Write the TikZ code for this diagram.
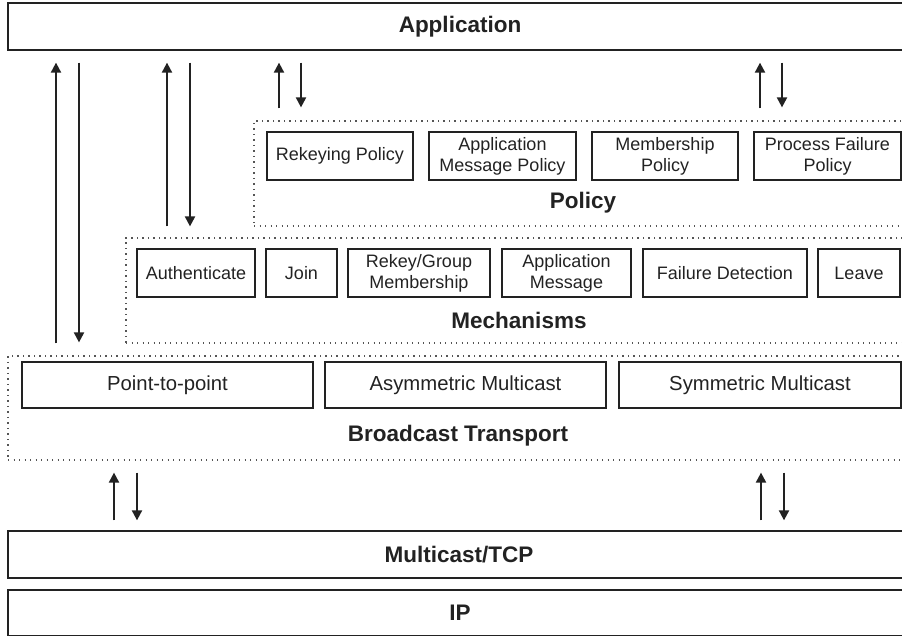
\documentclass[tikz,border=0pt]{standalone}
\usepackage{fontspec}
\setmainfont{Liberation Sans}
\usetikzlibrary{arrows.meta}
\definecolor{ink}{HTML}{222222}
\definecolor{dotc}{HTML}{555555}
\tikzset{
  box/.style={draw=ink, line width=1.3pt, rectangle, inner sep=0pt, align=center,
    text=ink, font=\fontsize{18}{21}\selectfont},
  bigbox/.style={box, font=\fontsize{20.3}{24}\selectfont},
  layer/.style={draw=ink, line width=1.3pt, rectangle, inner sep=0pt},
  group/.style={draw=dotc, line width=1.2pt, dash pattern=on 1.2pt off 4.3pt, rectangle, inner sep=0pt},
  title/.style={text=ink, inner sep=0pt, font=\fontsize{22.5}{26}\selectfont\bfseries},
  arr/.style={draw=ink, line width=2pt, -{Triangle[width=10pt,length=10pt]}},
}
\begin{document}
\begin{tikzpicture}[x=1pt,y=-1pt]
\useasboundingbox (0,0) rectangle (902,636);
% layers
\node[layer, minimum width=904pt, minimum height=47pt] (app) at (460,26.5) {};
\node[title] (appt) at (460,26.5) {Application};
\node[layer, minimum width=904pt, minimum height=47pt] (mc) at (460,554.5) {};
\node[title] (mct) at (459,554.5) {Multicast/TCP};
\node[layer, minimum width=904pt, minimum height=46pt] (ip) at (460,613) {};
\node[title] (ipt) at (460,612.5) {IP};
% groups
\node[group, minimum width=656pt, minimum height=105pt] (pol) at (582,173.5) {};
\node[group, minimum width=784pt, minimum height=105pt] (mech) at (518,290.5) {};
\node[group, minimum width=902pt, minimum height=104pt] (bt) at (459,408) {};
\node[title] (polt) at (583,202.5) {Policy};
\node[title] (mecht) at (519,320) {Mechanisms};
\node[title] (btt) at (458,436) {Broadcast Transport};
% policy boxes
\node[box, minimum width=146pt, minimum height=48pt] (rp) at (340,156) {Rekeying Policy};
\node[box, minimum width=147pt, minimum height=48pt] (amp) at (502.5,156) {Application\\Message Policy};
\node[box, minimum width=146pt, minimum height=48pt] (mp) at (665,156) {Membership\\Policy};
\node[box, minimum width=147pt, minimum height=48pt] (pfp) at (827.5,156) {Process Failure\\Policy};
% mechanism boxes
\node[box, minimum width=118pt, minimum height=48pt] (au) at (196,273) {Authenticate};
\node[box, minimum width=71pt, minimum height=48pt] (jo) at (301.5,273) {Join};
\node[box, minimum width=142pt, minimum height=48pt] (rk) at (419,273) {Rekey/Group\\Membership};
\node[box, minimum width=129pt, minimum height=48pt] (am) at (566.5,273) {Application\\Message};
\node[box, minimum width=164pt, minimum height=48pt] (fd) at (725,273) {Failure Detection};
\node[box, minimum width=82pt, minimum height=48pt] (lv) at (859,273) {Leave};
% transport boxes
\node[bigbox, minimum width=291pt, minimum height=46pt] (pp) at (167.5,385) {Point-to-point};
\node[bigbox, minimum width=281pt, minimum height=46pt] (as) at (465.5,385) {Asymmetric Multicast};
\node[bigbox, minimum width=282pt, minimum height=46pt] (sy) at (760,385) {Symmetric Multicast};
% arrow columns
\coordinate (c1u) at (56,0);  \coordinate (c1d) at (79,0);
\coordinate (c2u) at (167,0); \coordinate (c2d) at (190,0);
\coordinate (c3u) at (279,0); \coordinate (c3d) at (301,0);
\coordinate (c4u) at (760,0); \coordinate (c4d) at (782,0);
\coordinate (c5u) at (114,0); \coordinate (c5d) at (137,0);
\coordinate (c6u) at (761,0); \coordinate (c6d) at (784,0);
% arrows between application and groups
\draw[arr, shorten <=12pt, shorten >=12pt] (bt.north -| c1u) -- (app.south -| c1u);
\draw[arr, shorten <=12pt, shorten >=13pt] (app.south -| c1d) -- (bt.north -| c1d);
\draw[arr, shorten <=11pt, shorten >=12pt] (mech.north -| c2u) -- (app.south -| c2u);
\draw[arr, shorten <=12pt, shorten >=11pt] (app.south -| c2d) -- (mech.north -| c2d);
\draw[arr, shorten <=12pt, shorten >=12pt] (pol.north -| c3u) -- (app.south -| c3u);
\draw[arr, shorten <=12pt, shorten >=13pt] (app.south -| c3d) -- (pol.north -| c3d);
\draw[arr, shorten <=12pt, shorten >=12pt] (pol.north -| c4u) -- (app.south -| c4u);
\draw[arr, shorten <=12pt, shorten >=13pt] (app.south -| c4d) -- (pol.north -| c4d);
% arrows between transport and multicast
\draw[arr, shorten <=10pt, shorten >=12pt] (mc.north -| c5u) -- (bt.south -| c5u);
\draw[arr, shorten <=12pt, shorten >=10pt] (bt.south -| c5d) -- (mc.north -| c5d);
\draw[arr, shorten <=10pt, shorten >=12pt] (mc.north -| c6u) -- (bt.south -| c6u);
\draw[arr, shorten <=12pt, shorten >=10pt] (bt.south -| c6d) -- (mc.north -| c6d);
\end{tikzpicture}
\end{document}
